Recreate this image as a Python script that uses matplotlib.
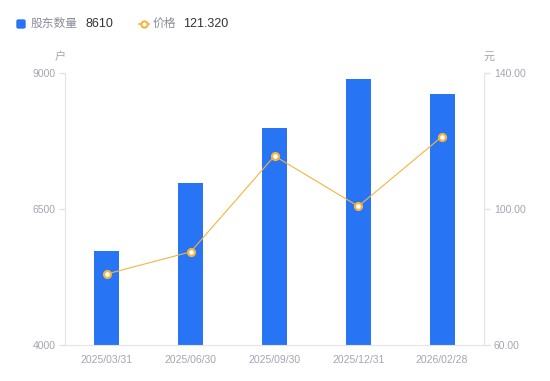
import matplotlib
matplotlib.use("Agg")
import matplotlib.pyplot as plt
from matplotlib.lines import Line2D
from matplotlib.patches import FancyBboxPatch

plt.rcParams['font.family'] = ['Liberation Sans', 'Noto Sans CJK SC', 'DejaVu Sans']

# data
dates = ["2025/03/31", "2025/06/30", "2025/09/30", "2025/12/31", "2026/02/28"]
holders = [5730, 6980, 7990, 8890, 8610]
price = [80.9, 87.4, 115.6, 100.8, 121.32]

blue = "#2775F4"
orange = "#F6B33E"
tick_col = "#A3A5B3"
axis_col = "#E3E4E8"

fig = plt.figure(figsize=(5.5, 3.81), dpi=100)
ax = fig.add_axes([65 / 550, 36 / 381, 419 / 550, 272 / 381])
x = range(len(dates))
ax.bar(x, holders, width=0.3, color=blue, zorder=2)
ax.set_xlim(-0.5, len(dates) - 0.5)
ax.set_ylim(4000, 9000)
ax.set_yticks([4000, 6500, 9000])
ax.set_xticks(list(x))
ax.set_xticklabels(dates)

ax2 = ax.twinx()
ax2.plot(x, price, color=orange, lw=0.8, marker="o", ms=5, mfc="white",
         mec=orange, mew=1.6, zorder=3)
ax2.set_ylim(60, 140)
ax2.set_yticks([60, 100, 140])
ax2.set_yticklabels(["60.00", "100.00", "140.00"])

for a in (ax, ax2):
    for s in a.spines.values():
        s.set_visible(False)
    a.tick_params(colors=axis_col, labelcolor=tick_col, labelsize=7.5, length=4, width=1)
ax.spines["left"].set_visible(True)
ax.spines["left"].set_color(axis_col)
ax.spines["bottom"].set_visible(True)
ax.spines["bottom"].set_color(axis_col)
ax2.spines["right"].set_visible(True)
ax2.spines["right"].set_color(axis_col)
ax.tick_params(axis="x", length=0, pad=7)
ax.tick_params(axis="y", pad=3)
ax2.tick_params(axis="y", pad=3)

# unit labels
fig.text(60 / 550, 1 - 57 / 381, "户", color=tick_col, fontsize=8, ha="center", va="center")
fig.text(489 / 550, 1 - 57 / 381, "元", color=tick_col, fontsize=8, ha="center", va="center")

# legend
ly = 1 - 24 / 381
fig.patches.append(FancyBboxPatch((17 / 550, ly - 4 / 381), 8 / 550, 8 / 381,
                                  boxstyle="round,pad=0,rounding_size=0.003",
                                  transform=fig.transFigure, color=blue))
fig.text(31 / 550, ly, "股东数量", color="#8A8C99", fontsize=8.5, va="center")
fig.text(85 / 550, ly, "8610", color="#333333", fontsize=9, va="center")
fig.lines.append(Line2D([139 / 550, 149 / 550], [ly, ly], transform=fig.transFigure,
                        color=orange, lw=1.2))
fig.lines.append(Line2D([144 / 550], [ly], transform=fig.transFigure, color=orange,
                        marker="o", ms=4.5, mfc="white", mec=orange, mew=1.5))
fig.text(153 / 550, ly, "价格", color="#8A8C99", fontsize=8.5, va="center")
fig.text(183 / 550, ly, "121.320", color="#333333", fontsize=9, va="center")

fig.savefig("out.png", dpi=100)
